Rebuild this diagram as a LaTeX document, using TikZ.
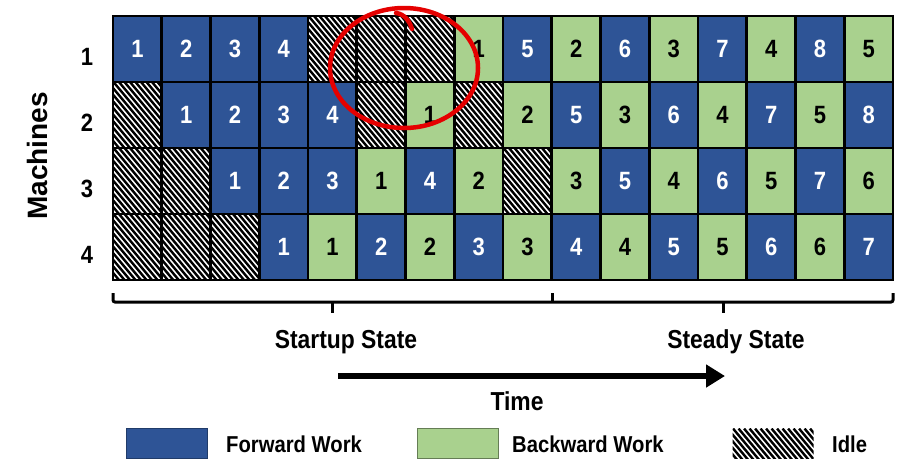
\documentclass[tikz,border=0pt]{standalone}
\usepackage{fontspec}
\setmainfont{Liberation Sans}
\newfontfamily\condfont[FakeStretch=0.88]{Liberation Sans}
\usetikzlibrary{arrows.meta}

\definecolor{fwdblue}{HTML}{2E5496}
\definecolor{bwdgreen}{HTML}{A9D18E}

% diagonal hatching used for idle slots
\newcommand\hatchlines{%
  \foreach \k in {-60,-54.5,...,90}{%
    \draw[line width=2.4pt,black]
      ([xshift=\k pt]path picture bounding box.north west) -- ++(75,90);
  }%
}

\begin{document}
\begin{tikzpicture}[x=1pt,y=-1pt,
  cellbase/.style={draw=black, line width=2.6pt, minimum width=48.75pt,
    minimum height=66pt, inner sep=0pt, outer sep=0pt,
    font=\condfont\bfseries\fontsize{25}{25}\selectfont},
  cellF/.style={cellbase, fill=fwdblue, text=white},
  cellB/.style={cellbase, fill=bwdgreen, text=black},
  cellI/.style={cellbase, fill=white, path picture={\hatchlines}},
  rowlabel/.style={font=\condfont\bfseries\fontsize{25}{25}\selectfont, inner sep=0pt},
  biglabel/.style={font=\condfont\bfseries\fontsize{26}{26}\selectfont, inner sep=0pt},
  legtext/.style={font=\condfont\bfseries\fontsize{23}{23}\selectfont, inner sep=0pt, anchor=west},
  legbox/.style={minimum width=81pt, minimum height=30pt, inner sep=0pt, line width=1.2pt},
  brace/.style={line width=3pt, black},
  marker/.style={red!90!black, line width=4.5pt, line cap=round}
]
\useasboundingbox (0,0) rectangle (907,459);

% schedule grid: one row per machine, one column per time slot
\foreach \r/\lst in {%
  1/{F/1,F/2,F/3,F/4,I/0,I/0,I/0,B/1,F/5,B/2,F/6,B/3,F/7,B/4,F/8,B/5},
  2/{I/0,F/1,F/2,F/3,F/4,I/0,B/1,I/0,B/2,F/5,B/3,F/6,B/4,F/7,B/5,F/8},
  3/{I/0,I/0,F/1,F/2,F/3,B/1,F/4,B/2,I/0,B/3,F/5,B/4,F/6,B/5,F/7,B/6},
  4/{I/0,I/0,I/0,F/1,B/1,F/2,B/2,F/3,B/3,F/4,B/4,F/5,B/5,F/6,B/6,F/7}}{%
  \foreach[count=\c] \ty/\nb in \lst{%
    \node[cell\ty, anchor=north west] (cell-\r-\c)
      at ({113+(\c-1)*48.75},{16+(\r-1)*66}) {\if\ty I\else\raisebox{-2pt}{\nb}\fi};
  }
}

% machine numbers and axis title
\node[rowlabel] (m1) at (87,57) {1};
\node[rowlabel] (m2) at (87,123) {2};
\node[rowlabel] (m3) at (87,189) {3};
\node[rowlabel] (m4) at (87,255) {4};
\node[font=\bfseries\fontsize{28}{28}\selectfont, rotate=90, inner sep=0pt]
  (machines) at (37,156) {Machines};

% brackets under the startup and steady phases
\coordinate (bL) at (113,293);
\coordinate (bM) at (552,293);
\coordinate (bR) at (893,293);
\draw[brace, rounded corners=2pt] (bL) -- (113,302) -- (893,302) -- (bR);
\draw[brace] (552,302) -- (bM);
\coordinate (tipS) at (332,313);
\coordinate (tipT) at (723,313);
\draw[brace] (332,302) -- (tipS);
\draw[brace] (723,302) -- (tipT);

\node[biglabel] (startup) at (346,342) {Startup State};
\node[biglabel] (steady) at (736,342) {Steady State};

% time arrow
\coordinate (tA) at (338,376);
\coordinate (tB) at (725,376);
\draw[line width=6pt, -{Triangle[length=19pt,width=22pt]}] (tA) -- (tB);
\node[biglabel] (time) at (517,401) {Time};

% legend
\node[legbox, fill=fwdblue, draw=fwdblue!70!black, anchor=north west] (kF) at (126,428) {};
\node[legtext] (kFt) at (226,444) {Forward Work};
\node[legbox, fill=bwdgreen, draw=bwdgreen!60!black, anchor=north west] (kB) at (417,428) {};
\node[legtext] (kBt) at (512,444) {Backward Work};
\node[legbox, fill=white, path picture={\hatchlines}, anchor=north west] (kI) at (732,428) {};
\node[legtext] (kIt) at (832,444) {Idle};

% hand-drawn red highlight
\draw[marker] (404,68) ellipse [x radius=74, y radius=60];
\draw[marker]
  (396,13) .. controls (404,14) and (409,20) .. (412,29);
\end{tikzpicture}
\end{document}
